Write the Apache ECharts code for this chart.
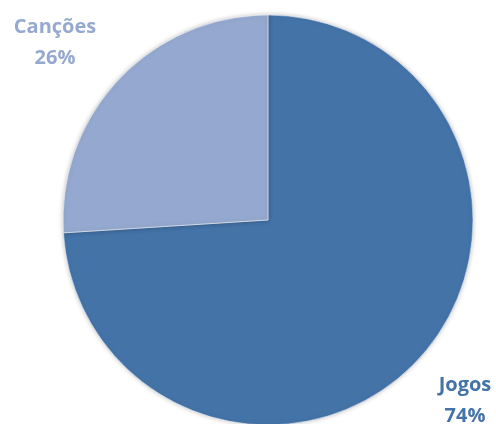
<!DOCTYPE html>
<html><head><meta charset="utf-8">
<script src="https://cdn.jsdelivr.net/npm/echarts@6/dist/echarts.min.js"></script>
<style>html,body{margin:0;padding:0;background:#fff}#c{width:496px;height:424px}</style>
</head><body><div id="c"></div>
<script>
const categories = ['Jogos', 'Canções'];
const values = [74, 26];
const colors = ['#4473A8', '#95A9D0'];
const labelPos = [[465, 401], [55, 43]];

const chart = echarts.init(document.getElementById('c'));
chart.setOption({
  animation: false,
  series: [{
    type: 'pie',
    center: [268, 220],
    radius: [0, 205],
    startAngle: 90,
    clockwise: true,
    data: categories.map((n, i) => ({name: n, value: values[i], itemStyle: {color: colors[i]}, label: {color: colors[i]}})),
    itemStyle: {borderColor: '#fff', borderWidth: 0.5, shadowBlur: 5, shadowColor: 'rgba(0,0,0,0.25)'},
    label: {
      show: true,
      position: 'inside',
      formatter: '{b}\n{d}%',
      fontFamily: 'Open Sans',
      fontWeight: 'bold',
      fontSize: 20,
      lineHeight: 31,
      align: 'center'
    },
    labelLine: {show: false},
    labelLayout: function (p) {
      const pos = labelPos[p.dataIndex];
      return {x: pos[0], y: pos[1], align: 'center', verticalAlign: 'middle'};
    }
  }]
});
</script></body></html>
